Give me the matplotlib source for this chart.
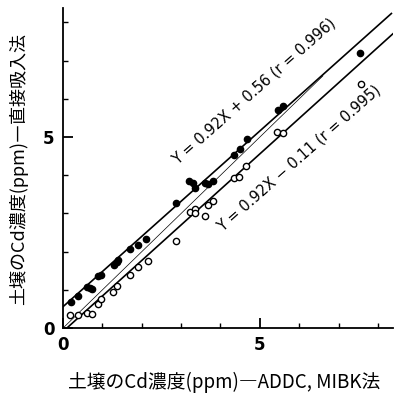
import matplotlib
matplotlib.use("Agg")
import matplotlib.pyplot as plt
import numpy as np

plt.rcParams['font.family'] = ['Noto Sans CJK JP', 'DejaVu Sans']

# Direct aspiration method (filled) vs ADDC-MIBK (x)
direct_x = [0.20, 0.39, 0.60, 0.69, 0.73, 0.88, 0.96, 1.30, 1.36, 1.40, 1.70, 1.90, 2.12,
            2.88, 3.21, 3.31, 3.35, 3.60, 3.69, 3.82, 4.34, 4.49, 4.68, 5.47, 5.59, 7.55]
direct_y = [0.68, 0.83, 1.07, 1.05, 1.02, 1.37, 1.40, 1.66, 1.72, 1.79, 2.08, 2.18, 2.33,
            3.27, 3.84, 3.81, 3.66, 3.80, 3.78, 3.86, 4.54, 4.69, 4.95, 5.72, 5.80, 7.20]
# Second set (open)
open_x = [0.18, 0.39, 0.60, 0.73, 0.88, 0.96, 1.28, 1.36, 1.70, 1.91, 2.15, 2.88,
          3.22, 3.35, 3.35, 3.60, 3.69, 3.82, 4.34, 4.47, 4.66, 5.44, 5.58, 7.58]
open_y = [0.35, 0.35, 0.39, 0.38, 0.64, 0.77, 0.94, 1.09, 1.40, 1.60, 1.77, 2.29,
          3.05, 3.12, 3.01, 2.94, 3.23, 3.32, 3.93, 3.95, 4.23, 5.12, 5.10, 6.40]

# Regression lines (slope, intercept, x-range)
upper_fit = (0.92, 0.56, 0.0, 8.34)
lower_fit = (0.93, -0.09, 0.12, 8.38)
identity_range = (0.0, 6.6)

upper_label = "Y = 0.92X + 0.56 (r = 0.996)"
lower_label = "Y = 0.92X − 0.11 (r = 0.995)"
xlabel = "土壌のCd濃度(ppm)―ADDC, MIBK法"
ylabel = "土壌のCd濃度(ppm)―直接吸入法"

fig = plt.figure(figsize=(4.01, 3.93), dpi=100)
ax = fig.add_axes([0.157, 0.165, 0.823, 0.815])

for s, b, x0, x1 in (upper_fit, lower_fit):
    xx = np.array([x0, x1])
    ax.plot(xx, s * xx + b, color='black', lw=1.2, zorder=2)
xi = np.array(identity_range)
ax.plot(xi, xi, color='black', lw=0.5, zorder=2)

ax.plot(direct_x, direct_y, 'o', ms=4.5, mfc='black', mec='black', zorder=3)
ax.plot(open_x, open_y, 'o', ms=4.5, mfc='white', mec='black', mew=1.0, zorder=3)

ax.set_xlim(0, 8.38)
ax.set_ylim(0, 8.38)
for sp in ('top', 'right'):
    ax.spines[sp].set_visible(False)
for sp in ('left', 'bottom'):
    ax.spines[sp].set_linewidth(1.3)

ax.set_xticks([0, 5])
ax.set_yticks([0, 5])
ax.set_xticks(range(1, 9), minor=True)
ax.set_yticks(range(1, 9), minor=True)
ax.tick_params(which='major', direction='in', length=7, width=1.3, labelsize=12, pad=6)
ax.tick_params(which='minor', direction='in', length=3.5, width=1.0)
for lab in ax.get_xticklabels() + ax.get_yticklabels():
    lab.set_fontweight('bold')
    lab.set_family('DejaVu Sans')

ax.text(4.85, 6.2, upper_label, rotation=41.5, rotation_mode='anchor',
        ha='center', va='center', fontsize=10.5, family='DejaVu Sans')
ax.text(6.0, 4.45, lower_label, rotation=41.5, rotation_mode='anchor',
        ha='center', va='center', fontsize=10.5, family='DejaVu Sans')

fig.text(0.56, 0.028, xlabel, ha='center', va='center', fontsize=13.5)
fig.text(0.045, 0.57, ylabel, ha='center', va='center', rotation=90, fontsize=13)

fig.savefig('out.png', dpi=100)
